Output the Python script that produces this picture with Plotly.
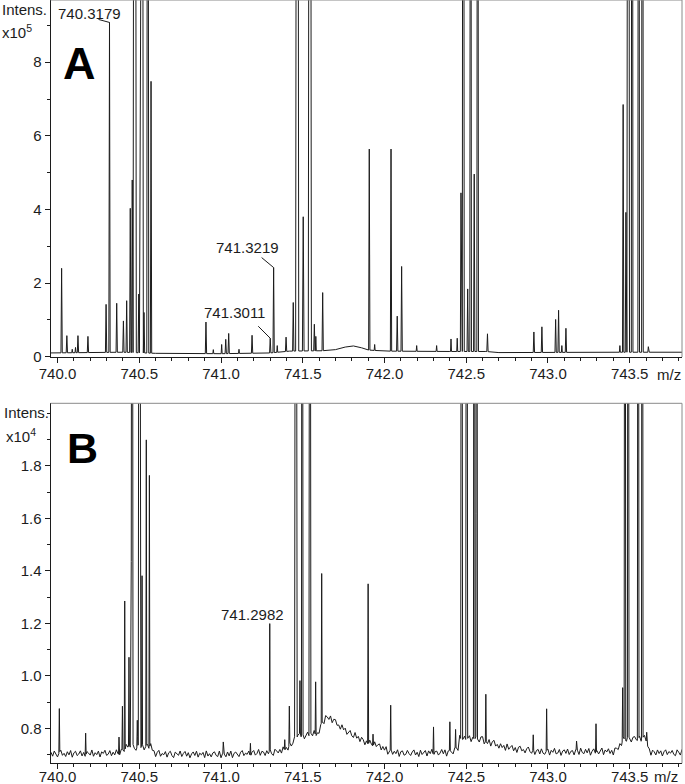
import numpy as np
import plotly.graph_objects as go

# ---------------- Panel A (intensity in units of 1e5) ----------------
A_PEAK_MZ = [740.025, 740.057, 740.090, 740.110, 740.125, 740.186, 740.297, 740.3179,
             740.362, 740.403, 740.423, 740.445, 740.457, 740.472, 740.497, 740.505,
             740.515, 740.529, 740.552, 740.572, 740.908, 740.953, 741.004, 741.029,
             741.047, 741.110, 741.190, 741.3011, 741.3219, 741.344, 741.398, 741.442,
             741.466, 741.503, 741.5435, 741.571, 741.580, 741.622, 741.907, 741.940,
             742.040, 742.078, 742.105, 742.197, 742.319, 742.407, 742.445, 742.468,
             742.482, 742.509, 742.527, 742.549, 742.570, 742.630, 742.914, 742.963,
             743.047, 743.065, 743.085, 743.110, 743.440, 743.460, 743.477, 743.491,
             743.515, 743.555, 743.578, 743.614]
A_PEAK_INT = [2.40, 0.57, 0.20, 0.25, 0.57, 0.55, 1.42, 9.08,
              1.45, 0.97, 1.52, 4.03, 4.80, 40.0, 1.70, 5.76,
              40.0, 1.20, 30.0, 7.48, 0.94, 0.19, 0.33, 0.47,
              0.63, 0.20, 0.58, 0.50, 2.42, 0.30, 0.53, 1.47,
              40.0, 3.80, 40.0, 0.88, 0.55, 1.74, 5.64, 0.33,
              5.64, 1.10, 2.45, 0.30, 0.30, 0.48, 0.50, 4.45,
              40.0, 1.84, 30.0, 4.96, 30.0, 0.62, 0.67, 0.81,
              1.01, 1.26, 0.30, 0.77, 0.30, 6.85, 3.92, 40.0,
              40.0, 40.0, 40.0, 0.27]
A_PEAK_HW = [0.004, 0.004, 0.003, 0.003, 0.004, 0.004, 0.004, 0.004,
             0.004, 0.004, 0.004, 0.004, 0.004, 0.010, 0.004, 0.004,
             0.008, 0.004, 0.006, 0.004, 0.004, 0.003, 0.003, 0.004,
             0.004, 0.003, 0.004, 0.004, 0.004, 0.003, 0.004, 0.004,
             0.0095, 0.005, 0.0095, 0.004, 0.003, 0.004, 0.004, 0.003,
             0.004, 0.004, 0.004, 0.003, 0.003, 0.003, 0.003, 0.004,
             0.006, 0.004, 0.005, 0.004, 0.005, 0.004, 0.004, 0.004,
             0.004, 0.004, 0.003, 0.004, 0.003, 0.004, 0.004, 0.008,
             0.005, 0.005, 0.005, 0.003]
A_BASE_MZ = [739.95, 740.40, 740.60, 741.00, 741.30, 741.42, 741.62, 741.70, 741.76,
             741.81, 741.86, 741.90, 742.00, 742.40, 742.62, 742.70, 743.40, 743.62, 743.85]
A_BASE_INT = [0.10, 0.12, 0.09, 0.08, 0.10, 0.15, 0.16, 0.19, 0.26,
              0.29, 0.24, 0.18, 0.15, 0.14, 0.14, 0.11, 0.12, 0.12, 0.12]

# ---------------- Panel B (intensity in units of 1e4) ----------------
B_PEAK_MZ = [740.011, 740.172, 740.376, 740.397, 740.411, 740.437, 740.448, 740.456,
             740.488, 740.500, 740.517, 740.543, 740.562, 741.014, 741.180, 741.2982,
             741.390, 741.418, 741.458, 741.483, 741.497, 741.544, 741.579, 741.616,
             741.900, 741.930, 742.038, 742.300, 742.400, 742.435, 742.472, 742.503,
             742.549, 742.564, 742.620, 742.910, 742.992, 743.175, 743.294, 743.457,
             743.471, 743.491, 743.552, 743.577, 743.604]
B_PEAK_INT = [0.87, 0.79, 0.775, 0.88, 1.295, 1.067, 1.34, 5.0,
              0.83, 5.0, 1.377, 1.895, 1.767, 0.745, 0.755, 1.19,
              0.76, 0.876, 5.0, 0.977, 5.0, 5.0, 0.984, 1.384,
              1.358, 0.787, 0.882, 0.816, 0.816, 0.79, 5.0, 5.0,
              5.0, 5.0, 0.927, 0.768, 0.87, 0.745, 0.82, 0.953,
              5.0, 5.0, 5.0, 5.0, 0.79]
B_PEAK_HW = [0.003, 0.003, 0.003, 0.003, 0.003, 0.003, 0.003, 0.006,
             0.003, 0.006, 0.003, 0.003, 0.003, 0.003, 0.003, 0.003,
             0.003, 0.003, 0.008, 0.003, 0.005, 0.006, 0.003, 0.003,
             0.003, 0.003, 0.003, 0.003, 0.003, 0.003, 0.006, 0.006,
             0.005, 0.005, 0.003, 0.003, 0.003, 0.003, 0.003, 0.003,
             0.005, 0.005, 0.005, 0.005, 0.003]
B_BASE_MZ = [739.95, 740.36, 740.40, 740.42, 740.57, 740.60, 741.00, 741.30, 741.40,
             741.44, 741.46, 741.59, 741.62, 741.65, 741.68, 741.72, 741.78, 741.85,
             741.90, 741.96, 742.02, 742.08, 742.40, 742.45, 742.46, 742.59, 742.61,
             742.66, 742.72, 742.85, 742.95, 743.40, 743.44, 743.46, 743.60, 743.62, 743.85]
B_BASE_INT = [0.703, 0.705, 0.715, 0.73, 0.73, 0.703, 0.700, 0.708, 0.72,
              0.745, 0.77, 0.78, 0.82, 0.845, 0.835, 0.81, 0.785, 0.76,
              0.745, 0.735, 0.715, 0.705, 0.708, 0.725, 0.76, 0.76, 0.75,
              0.745, 0.73, 0.718, 0.71, 0.712, 0.73, 0.76, 0.76, 0.71, 0.705]
# baseline noise, 0.01 m/z apart from 739.96, in units of 0.0015e4
B_NOISE_START = 739.96
B_NOISE_STEP = 0.01
B_NOISE = [4, -6, 7, -2, -8, 3, 9, -4, 1, -7, 5, -3, 8, -9, 2, 6, -5, -1, 7, -6,
           3, -8, 5, 1, -4, 9, -7, 2, -3, 6, -9, 4, 0, 8, -5, -2, 7, -6, 3, -4,
           9, -3, -7, 5, 2, -8, 6, -1, 4, -6, 8, -4, -9, 3, 7, -2, 5, -8, 1, 6,
           -5, 8, -3, 2, -7, 4, 9, -6, 1, -2, 6, -8, 3, 7, -4, -9, 5, 0, -3, 8,
           -6, 2, 7, -5, 4, -9, 1, 6, -3, 8, -7, 3, -1, 5, -8, 9, -4, 2, -6, 4,
           7, -2, -5, 9, -8, 3, 1, -6, 6, -4, 8, -9, 2, 5, -3, -7, 4, 8, -5, 1,
           -2, 6, -8, 3, 7, -5, -1, 9, -6, 4, 2, -7, 5, -3, 8, -4, -9, 6, 1, -5,
           3, -7, 8, -2, 5, -6, 9, -4, -1, 7, -8, 2, 6, -3, 4, -9, 1, 7, -5, 3,
           -4, 9, -6, 2, -8, 5, 3, -7, 8, -1, -5, 6, -9, 4, 7, -3, 2, -6, 8, -2,
           5, -8, 1, 7, -4, -6, 9, -3, 4, -7, 6, 2, -9, 3, -5, 8, -1, -6, 7, -4,
           2, 6, -7, 4, -3, 8, -9, 1, 5, -6, 3, -2, 9, -8, 4, 6, -5, -3, 7, -1,
           -6, 3, 8, -5, 2, -9, 7, -4, 1, 6, -8, 5, -2, 9, -7, 3, 4, -6, -1, 8,
           -3, 7, -9, 4, 6, -2, -8, 5, 3, -6, 9, -4, -1, 7, -5, 2, 8, -7, 4, -3,
           6, -1, -8, 5, 9, -6, 2, -4, 7, -9, 3, 8, -5, 1, -7, 6, -2, 4, -8, 9,
           -4, 2, 7, -6, 3, -9, 5, 8, -3, 1, -7, 4, 9, -2, -6, 5, -8, 3, 6, -5,
           8, -3, -6, 2, 7, -8, 4, -1, 9, -5, -3, 6, -9, 2, 5, -4, 7, -7, 1, 3,
           -8, 5, 4, -7, 9, -2, -5, 6, -3, 8, -9, 1, 7, -4, 2, -6, 3, 9, -8, 4,
           -1, 7, -5, 3, -9, 6, 2, -4, 8, -7, 5, -3, -6, 9, 1, -8, 4, 6, -2, -5,
           7, -6, 3, 9, -4, -2, 8, -8, 5, 1, -7, 6, -3, 4, -9, 2, 7, -5, 3, -1,
           6, -4, -7, 8, 2, -5, 9, -3, 4]
B_NOISE_UNIT = 0.0015

X_TICKS = [740.0, 740.5, 741.0, 741.5, 742.0, 742.5, 743.0, 743.5]
A_YTICKS = [0, 2, 4, 6, 8]
B_YTICKS = [0.8, 1.0, 1.2, 1.4, 1.6, 1.8]


def profile(base_mz, base_int, smooth_mz, smooth_int, pk_mz, pk_int, pk_hw):
    base_mz = np.asarray(base_mz, float)
    base_int = np.asarray(base_int, float)
    pk_mz = np.asarray(pk_mz, float)
    pk_int = np.asarray(pk_int, float)
    pk_hw = np.asarray(pk_hw, float)
    xs = np.unique(np.concatenate([base_mz, pk_mz - pk_hw, pk_mz, pk_mz + pk_hw]))
    base = np.interp(xs, base_mz, base_int)
    heights = pk_int - np.interp(pk_mz, smooth_mz, smooth_int)
    tri = np.clip(1 - np.abs(xs[:, None] - pk_mz[None, :]) / pk_hw[None, :], 0, None) * heights[None, :]
    return xs, base + tri.max(axis=1)


xa, ya = profile(A_BASE_MZ, A_BASE_INT, A_BASE_MZ, A_BASE_INT, A_PEAK_MZ, A_PEAK_INT, A_PEAK_HW)

noise_mz = B_NOISE_START + B_NOISE_STEP * np.arange(len(B_NOISE))
noise_base = np.interp(noise_mz, B_BASE_MZ, B_BASE_INT) + np.asarray(B_NOISE) * B_NOISE_UNIT
xb, yb = profile(noise_mz, noise_base, B_BASE_MZ, B_BASE_INT, B_PEAK_MZ, B_PEAK_INT, B_PEAK_HW)

FONT = "Liberation Sans, Arial, sans-serif"
INK = "#1c1c1c"

fig = go.Figure()
fig.add_trace(go.Scatter(x=xa, y=ya, mode="lines", line=dict(color=INK, width=1),
                         xaxis="x", yaxis="y", hoverinfo="skip", showlegend=False))
fig.add_trace(go.Scatter(x=xb, y=yb, mode="lines", line=dict(color=INK, width=1),
                         xaxis="x2", yaxis="y2", hoverinfo="skip", showlegend=False))

X_RANGE = [739.957, 743.82]
xcommon = dict(range=X_RANGE, tickmode="array", tickvals=X_TICKS,
               ticktext=[f"{v:.1f}" for v in X_TICKS], ticks="outside", ticklen=5,
               tickcolor=INK, minor=dict(tickmode="linear", tick0=740.0, dtick=0.1,
                                         ticks="outside", ticklen=3, tickcolor=INK),
               showline=True, linecolor=INK, linewidth=1, showgrid=False, zeroline=False,
               tickfont=dict(family=FONT, size=15, color=INK), automargin=False,
               domain=[50.5 / 685, 682 / 685])
ycommon = dict(ticks="outside", ticklen=5, tickcolor=INK, showline=True, linecolor=INK,
               linewidth=1, showgrid=False, zeroline=False,
               tickfont=dict(family=FONT, size=15, color=INK), automargin=False)

fig.update_layout(
    width=685, height=784, margin=dict(l=0, r=0, t=0, b=0),
    paper_bgcolor="white", plot_bgcolor="white", hovermode=False,
    xaxis=dict(**xcommon, anchor="y", ticklabelstandoff=-2),
    yaxis=dict(**ycommon, domain=[1 - 357 / 784, 1.0], range=[-0.01, 9.69],
               tickmode="array", tickvals=A_YTICKS, ticktext=[str(v) for v in A_YTICKS],
               minor=dict(tickmode="linear", tick0=0, dtick=1, ticks="outside",
                          ticklen=3, tickcolor=INK), anchor="x"),
    xaxis2=dict(**xcommon, anchor="y2", ticklabelstandoff=-5),
    yaxis2=dict(**ycommon, domain=[1 - 763.3 / 784, 1 - 403.3 / 784], range=[0.667, 2.038],
                tickmode="array", tickvals=B_YTICKS, ticktext=[f"{v:.1f}" for v in B_YTICKS],
                minor=dict(tickmode="linear", tick0=0.8, dtick=0.1, ticks="outside",
                           ticklen=3, tickcolor=INK), anchor="x2"),
)

# light frame on top / right of each panel
for xr, yr in (("x domain", "y domain"), ("x2 domain", "y2 domain")):
    fig.add_shape(type="line", xref=xr, yref=yr, x0=0, x1=1, y0=1, y1=1,
                  line=dict(color="#8a8a8a", width=1))
    fig.add_shape(type="line", xref=xr, yref=yr, x0=1, x1=1, y0=0, y1=1,
                  line=dict(color="#8a8a8a", width=1))

txt = dict(family=FONT, size=15, color=INK)


def paper_text(text, x, y, xanchor="left", size=15, bold=False):
    fig.add_annotation(text=f"<b>{text}</b>" if bold else text, xref="paper", yref="paper",
                       x=x / 685, y=1 - y / 784, xanchor=xanchor, yanchor="middle",
                       showarrow=False, font=dict(family=FONT, size=size, color="#000" if bold else INK))


paper_text("Intens.", 0, 9)
paper_text("x10<sup>5</sup>", 0, 31)
paper_text("m/z", 655, 374)
paper_text("A", 79, 64, xanchor="center", size=45, bold=True)
paper_text("Intens.", 2, 412)
paper_text("x10<sup>4</sup>", 4, 435)
paper_text("m/z", 652, 776)
paper_text("B", 82, 448, xanchor="center", size=43, bold=True)


def label_peak(lbl, mz_list, int_list, xref, yref, dx, dy, lead=None):
    i = [f"{m:.4f}" for m in mz_list].index(lbl)
    mz, h = mz_list[i], int_list[i]
    fig.add_annotation(text=lbl, x=mz, y=h, xref=xref, yref=yref, showarrow=False,
                       xshift=dx, yshift=dy, font=txt)
    if lead is not None:
        fig.add_shape(type="line", xref=xref, yref=yref, xsizemode="pixel", ysizemode="pixel",
                      xanchor=mz, yanchor=h, x0=lead[0], y0=lead[1], x1=0, y1=0,
                      line=dict(color=INK, width=1))


label_peak("740.3179", A_PEAK_MZ, A_PEAK_INT, "x", "y", -20, 9, lead=(-11, 3))
label_peak("741.3219", A_PEAK_MZ, A_PEAK_INT, "x", "y", -26, 20, lead=(-12, 10))
label_peak("741.3011", A_PEAK_MZ, A_PEAK_INT, "x", "y", -36, 26, lead=(-12, 12))
label_peak("741.2982", B_PEAK_MZ, B_PEAK_INT, "x2", "y2", -17, 11)

fig.write_html("out.html", config={"displayModeBar": False},
               post_script="document.body.style.margin='0';"
                           "document.body.style.padding='0';"
                           "document.documentElement.style.overflow='hidden';")
